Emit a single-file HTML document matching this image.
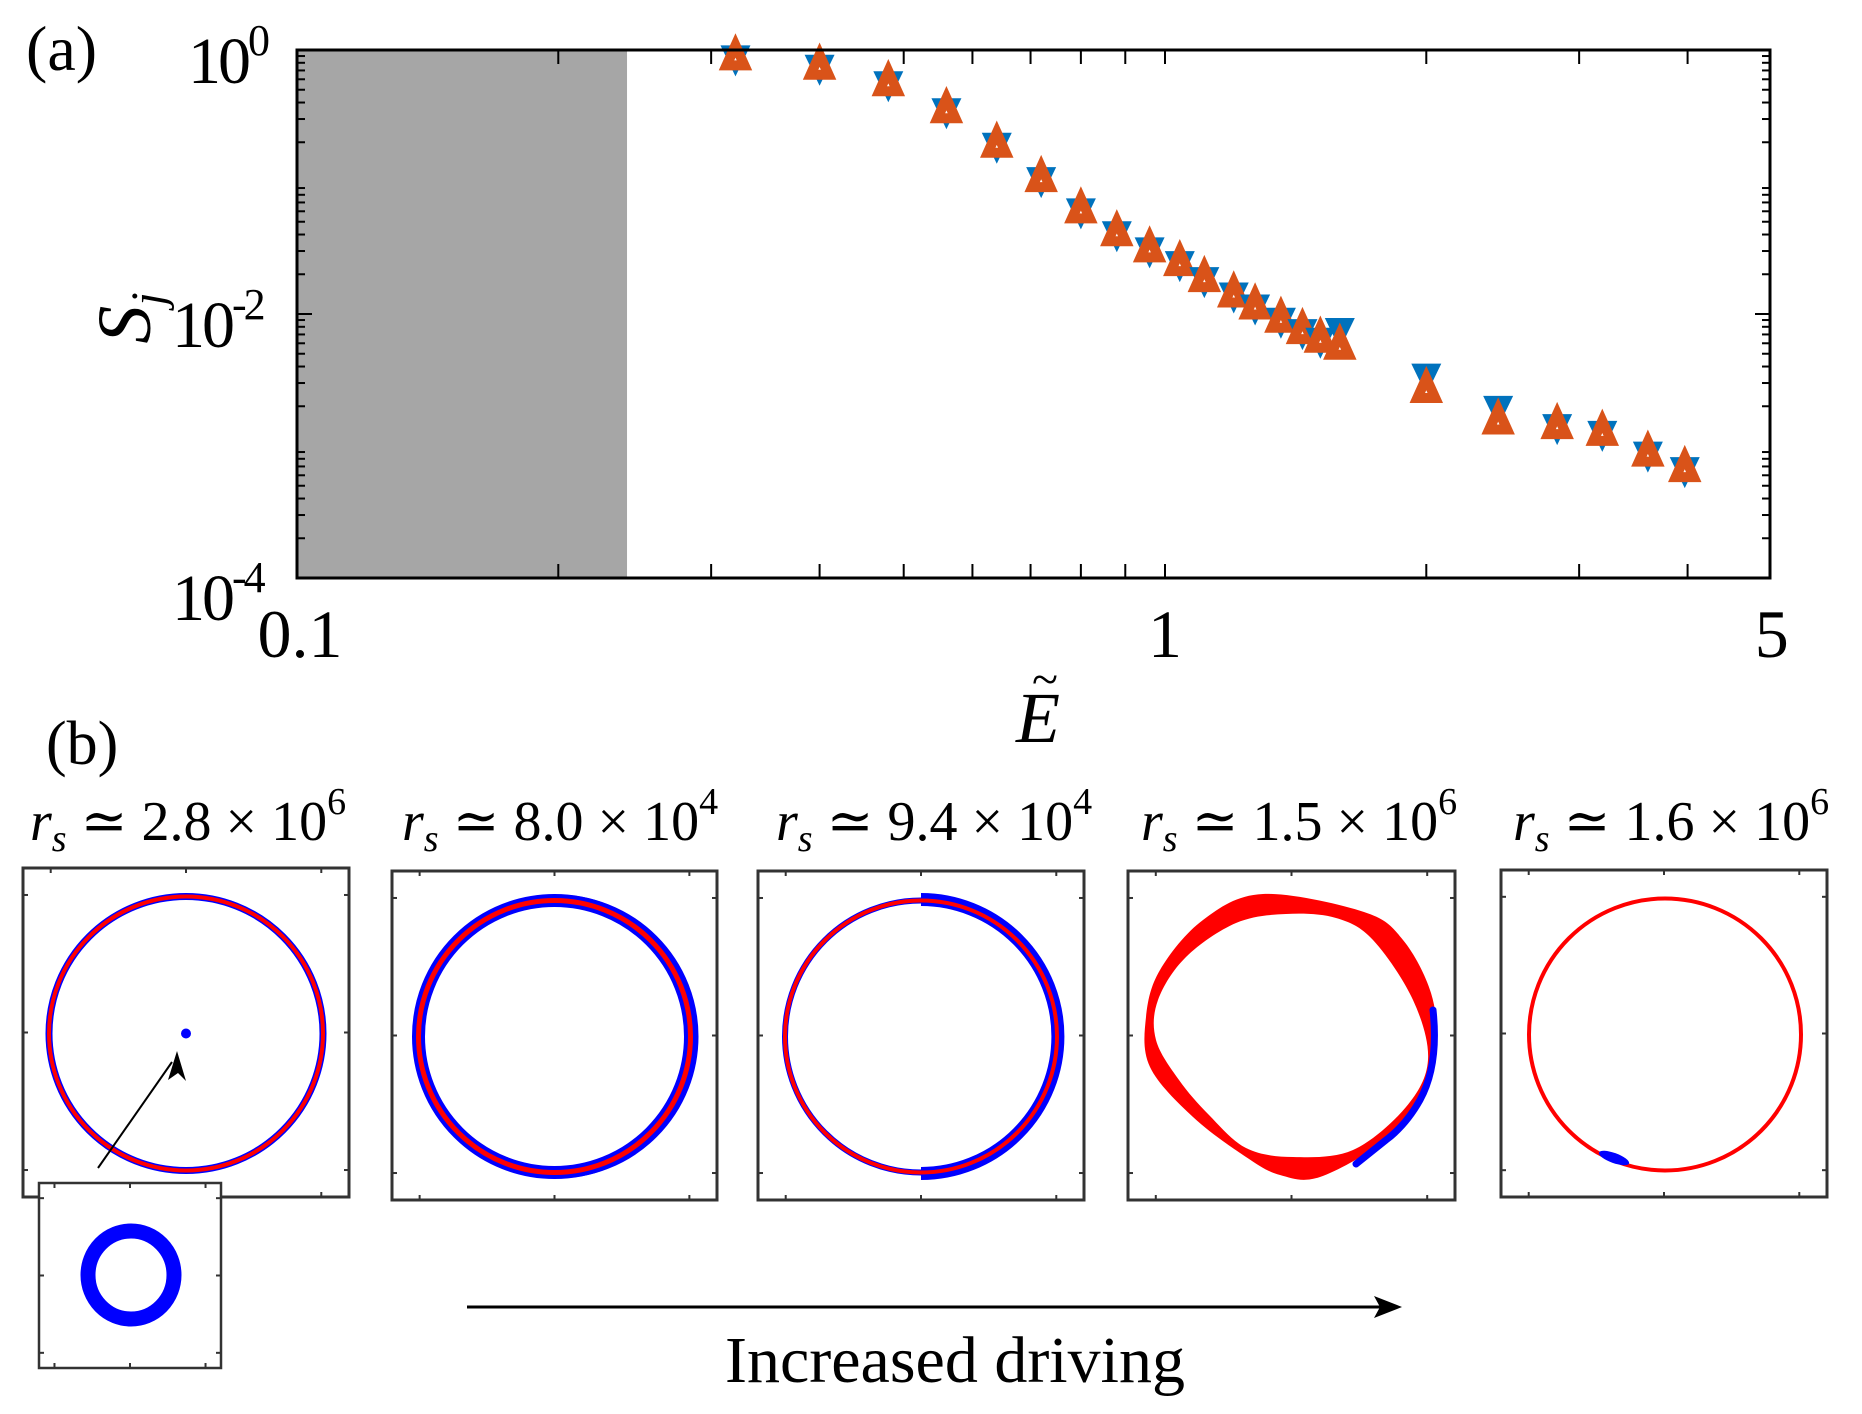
<!DOCTYPE html>
<html><head><meta charset="utf-8"><style>
html,body{margin:0;padding:0;background:#fff;}
svg{display:block;font-family:"Liberation Serif","DejaVu Serif",serif;}
</style></head><body>
<svg id="fig" width="1862" height="1414" viewBox="0 0 1862 1414" xmlns="http://www.w3.org/2000/svg">
<g id="panelA"></g>
<g id="panelB"></g>
</svg>
<script>
// ---- Panel (a) data ----
const eValues = [0.32,0.40,0.48,0.56,0.64,0.72,0.80,0.88,0.96,1.04,1.11,1.20,1.27,1.36,1.44,1.51,1.59,2.0,2.42,2.83,3.19,3.60,3.97];
const sOrange = [0.894,0.76,0.57,0.356,0.195,0.107,0.062,0.0416,0.0314,0.0247,0.0187,0.0143,0.0116,0.0092,0.00755,0.0065,0.00575,0.0027,0.00156,0.00144,0.00128,0.00089,0.00068];
const sBlue   = [0.894,0.76,0.57,0.356,0.195,0.107,0.062,0.0416,0.0314,0.0247,0.0187,0.0143,0.0116,0.0092,0.00755,0.0065,0.0077,0.00347,0.00198,0.00144,0.00128,0.00089,0.00068];
const xTickLabels = ["0.1","1","5"];
const xTickVals = [0.1,1,5];
const yTickVals = [1,0.01,0.0001];
const yTickExp = ["0","-2","-4"];
const shadeMax = 0.24;

const NS="http://www.w3.org/2000/svg";
function mk(tag, attrs, parent){const e=document.createElementNS(NS,tag);for(const k in attrs)e.setAttribute(k,attrs[k]);parent.appendChild(e);return e;}

const L=297,R=1770,T=50,B=578;
const xs=v=>L+(Math.log10(v)+1)*868;
const ys=v=>T+(-Math.log10(v))*132;
const A=document.getElementById('panelA');

const shade=mk('rect',{x:L,y:T,width:xs(shadeMax)-L,height:B-T,fill:'#a6a6a6'},A);



const tk=mk('g',{stroke:'#000','stroke-width':2},A);


[0.2,0.3,0.4,0.5,0.6,0.7,0.8,0.9,1,2,3,4].forEach(v=>{
  const x=xs(v);
  mk('line',{x1:x,y1:B,x2:x,y2:B-14},tk);
  mk('line',{x1:x,y1:T,x2:x,y2:T+14},tk);
});
for(let d=0;d>-4;d--){for(let m=2;m<=9;m++){const v=m*Math.pow(10,d-1);const y=ys(v);
  mk('line',{x1:L,y1:y,x2:L+8,y2:y},tk);mk('line',{x1:R,y1:y,x2:R-8,y2:y},tk);}}
[0.01].forEach(v=>{const y=ys(v);mk('line',{x1:L,y1:y,x2:L+15,y2:y},tk);mk('line',{x1:R,y1:y,x2:R-15,y2:y},tk);});

const mg=mk('g',{},A);


const w=15,h=12;
eValues.forEach((e,i)=>{
  const x=xs(e),yb=ys(sBlue[i]),yo=ys(sOrange[i]);
  const b=mk('polygon',{points:`${x-w},${yb-h+1} ${x+w},${yb-h+1} ${x},${yb+h+8}`,fill:'#0072bd'},mg);
  
  
  const o=mk('polygon',{points:`${x},${yo-h+1} ${x+w-6},${yo+h-3} ${x-w+6},${yo+h-3}`,fill:'#fff',stroke:'#d95319','stroke-width':10,'stroke-linejoin':'miter'},mg);
  
  
});
const frame=mk('rect',{x:L,y:T,width:R-L,height:B-T,fill:'none',stroke:'#000','stroke-width':3},A);



xTickVals.forEach((v,i)=>{
  const t=mk('text',{x:xs(v)+(i==0?3:0),y:657,'font-size':68,'text-anchor':'middle'},A);
  t.textContent=xTickLabels[i];
  
  
});
yTickVals.forEach((v,i)=>{
  const t=mk('text',{x:i==0?188:172,y:ys(v)+(i==0?33:i==1?33:42),'font-size':66,'letter-spacing':'-3'},A);
  t.textContent='10';
  const s=mk('tspan',{'font-size':44,dy:-28},t);s.textContent=yTickExp[i];
  
  
});
</script>
<script>
(function(){
const NS="http://www.w3.org/2000/svg";
function mk(tag, attrs, parent){const e=document.createElementNS(NS,tag);for(const k in attrs)e.setAttribute(k,attrs[k]);parent.appendChild(e);return e;}
const A=document.getElementById('panelA');
let t=mk('text',{x:26,y:70,'font-size':64},A);t.textContent='(a)';

t=mk('text',{x:0,y:0,'font-size':76,'font-style':'italic',transform:'translate(150,318) rotate(-90)','text-anchor':'middle'},A);
t.textContent='S';const sj=mk('tspan',{'font-size':48,dy:14},t);sj.textContent='j';

t=mk('text',{x:1038,y:742,'font-size':72,'font-style':'italic','text-anchor':'middle'},A);t.textContent='E';

t=mk('text',{x:1045,y:695,'font-size':48,'text-anchor':'middle'},A);t.textContent='~';


const P=document.getElementById('panelB');
t=mk('text',{x:46,y:764,'font-size':62},P);t.textContent='(b)';


const titles=[["2.8","6",30],["8.0","4",402],["9.4","4",776],["1.5","6",1141],["1.6","6",1513]];
const boxes=[[23,868,349,1197],[392,871,717,1200],[758,871,1084,1200],[1128,871,1455,1200],[1501,870,1827,1197]];
titles.forEach((tt,i)=>{
  const g=mk('text',{x:tt[2],y:840,'font-size':56},P);
  const r=mk('tspan',{'font-style':'italic'},g);r.textContent='r';
  const s=mk('tspan',{'font-style':'italic','font-size':38,dy:11},g);s.textContent='s';
  const rest=mk('tspan',{dy:-11},g);rest.textContent=' \u2243 '+tt[0]+' \u00d7 10';
  const e=mk('tspan',{'font-size':38,dy:-26},g);e.textContent=tt[1];
  
});

function boxTicks(g,x1,y1,x2,y2){
  const cx=(x1+x2)/2,cy=(y1+y2)/2,dx=(x2-x1)*0.415,dy=(y2-y1)*0.418;
  [cx-dx,cx,cx+dx].forEach(x=>{mk('line',{x1:x,y1:y2,x2:x,y2:y2-5,stroke:'#333','stroke-width':2},g);mk('line',{x1:x,y1:y1,x2:x,y2:y1+5,stroke:'#333','stroke-width':2},g);});
  [cy-dy,cy,cy+dy].forEach(y=>{mk('line',{x1:x1,y1:y,x2:x1+5,y2:y,stroke:'#333','stroke-width':2},g);mk('line',{x1:x2,y1:y,x2:x2-5,y2:y,stroke:'#333','stroke-width':2},g);});
}
boxes.forEach((b,i)=>{
  const g=mk('g',{},P);
  const cx=(b[0]+b[2])/2,cy=(b[1]+b[3])/2+1;
  if(i==0){
    mk('circle',{cx:cx,cy:cy,r:137,fill:'none',stroke:'#0000ff','stroke-width':7},g);
    mk('circle',{cx:cx,cy:cy,r:137,fill:'none',stroke:'#ff0000','stroke-width':4},g);
    mk('circle',{cx:cx,cy:cy,r:5,fill:'#0000ff'},g);
  } else if(i==1){
    mk('circle',{cx:cx,cy:cy,r:136,fill:'none',stroke:'#0000ff','stroke-width':13},g);
    mk('circle',{cx:cx+2,cy:cy,r:137,fill:'none',stroke:'#0000ff','stroke-width':10},g);
    mk('circle',{cx:cx,cy:cy,r:136,fill:'none',stroke:'#ff0000','stroke-width':5},g);
  } else if(i==2){
    mk('circle',{cx:cx,cy:cy,r:136,fill:'none',stroke:'#0000ff','stroke-width':6},g);
    mk('path',{d:`M${cx},${cy-137} A137,137 0 0 1 ${cx},${cy+137}`,fill:'none',stroke:'#0000ff','stroke-width':13},g);
    mk('circle',{cx:cx,cy:cy,r:136,fill:'none',stroke:'#ff0000','stroke-width':4},g);
  } else if(i==3){
    const C=[1291,1035];
    const outer=[[-28,-141],[73,-123],[112,-95],[140,-42],[145,12],[129,65],[95,105],[29,142],[-11,140],[-45,122],[-98,82],[-141,32],[-145,-18],[-131,-65],[-88,-115]];
    const inner=[[-5,-121],[45,-117],[82,-95],[122,-35],[137,25],[115,72],[62,115],[2,122],[-45,113],[-82,80],[-112,45],[-135,5],[-133,-35],[-105,-78],[-55,-112]];
    function cr(pts){const p=pts.map(q=>[q[0]+C[0],q[1]+C[1]]);const n=p.length;let d='M'+p[0][0]+','+p[0][1];
      for(let k=0;k<n;k++){const p0=p[(k-1+n)%n],p1=p[k],p2=p[(k+1)%n],p3=p[(k+2)%n];
        d+=' C'+(p1[0]+(p2[0]-p0[0])/6)+','+(p1[1]+(p2[1]-p0[1])/6)+' '+(p2[0]-(p3[0]-p1[0])/6)+','+(p2[1]-(p3[1]-p1[1])/6)+' '+p2[0]+','+p2[1];}
      return d+'Z';}
    mk('path',{d:cr(outer)+' '+cr(inner),fill:'#ff0000','fill-rule':'evenodd'},g);
    const arc=[[142,-25],[144,12],[129,65],[95,105],[65,129]].map(q=>[q[0]+C[0],q[1]+C[1]]);
    mk('path',{d:'M'+arc[0]+' Q'+[C[0]+148,C[1]+30]+' '+arc[2]+' Q'+[C[0]+115,C[1]+90]+' '+arc[3]+' L'+arc[4],fill:'none',stroke:'#0000ff','stroke-width':7,'stroke-linecap':'round'},g);
  } else {
    mk('circle',{cx:cx+1,cy:cy,r:136,fill:'none',stroke:'#ff0000','stroke-width':4},g);
    mk('ellipse',{cx:1614,cy:1158,rx:16,ry:5,transform:'rotate(20 1614 1158)',fill:'#0000ff'},g);
  }
  mk('rect',{x:b[0],y:b[1],width:b[2]-b[0],height:b[3]-b[1],fill:'none',stroke:'#333','stroke-width':3},g);
  boxTicks(g,b[0],b[1],b[2],b[3]);
});

const ig=mk('g',{},P);
mk('rect',{x:39,y:1183,width:182,height:185,fill:'#fff',stroke:'#333','stroke-width':2.5},ig);
mk('ellipse',{cx:131,cy:1275,rx:43,ry:44,fill:'none',stroke:'#0000ff','stroke-width':15},ig);
boxTicks(ig,39,1183,221,1368);

const ar=mk('g',{},P);
mk('line',{x1:98,y1:1168,x2:172,y2:1062,stroke:'#000','stroke-width':2},ar);
mk('polygon',{points:'177,1051 168,1080 178,1073 186,1081',fill:'#000'},ar);

const da=mk('g',{},P);
mk('line',{x1:467,y1:1307,x2:1390,y2:1307,stroke:'#000','stroke-width':3},da);
mk('polygon',{points:'1402,1307 1374,1296 1380,1307 1374,1318',fill:'#000'},da);
t=mk('text',{x:955,y:1382,'font-size':66,'text-anchor':'middle'},P);t.textContent='Increased driving';

})();
</script>
</body></html>
